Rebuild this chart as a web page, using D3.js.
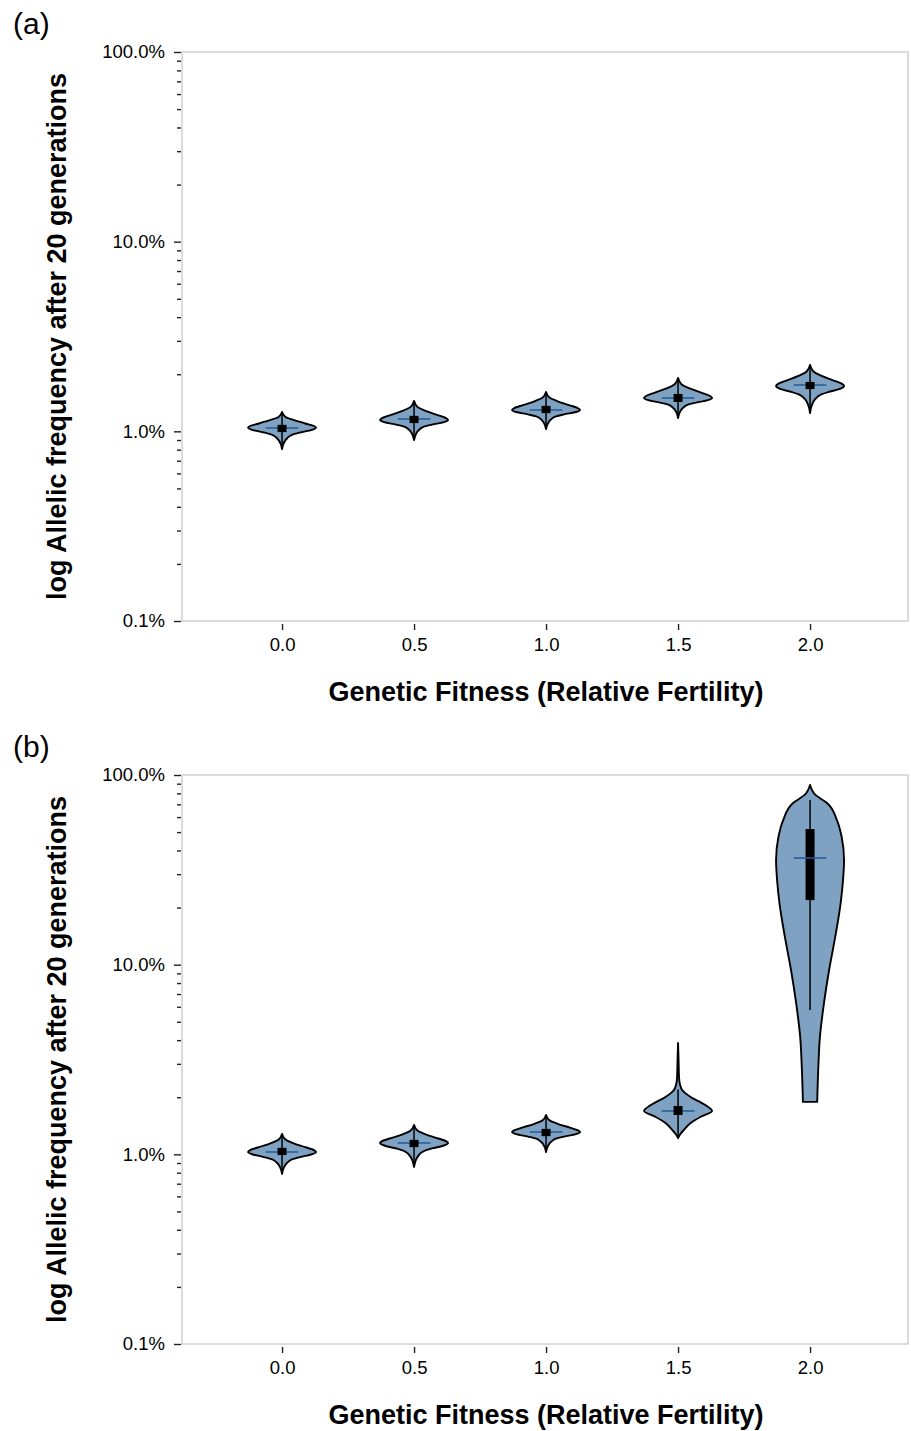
<!DOCTYPE html>
<html>
<head>
<meta charset="utf-8" />
<script src="https://cdn.jsdelivr.net/npm/d3@7"></script>
<style>
body{margin:0;background:#fff;}
svg text{font-family:"Liberation Sans",Arial,sans-serif;fill:#000;}
svg .violin{fill:#7fa2c3;stroke:#000;stroke-width:1.9px;stroke-linejoin:round;}
svg .whisker{stroke:#000;stroke-width:1.5px;}
svg .box{fill:#000;}
svg .mean{stroke:#1f5b99;stroke-width:1.6px;}
svg .frame{fill:none;stroke:#cfcfcf;stroke-width:1.5px;}
svg .tick line{stroke:#222;stroke-width:1.4px;}
</style>
</head>
<body>
<div id="chart"></div>
<script>
// categories
var fitness = [0.0, 0.5, 1.0, 1.5, 2.0];
var yTicks = [0.1, 1, 10, 100];

// violin outlines, [frequency %, relative half width]
// panel (a)
var a00 = [[1.265,0],[1.190,0.10],[1.148,0.34],[1.100,0.68],[1.067,0.94],[1.048,1],[1.019,0.88],[0.986,0.53],[0.959,0.29],[0.920,0.15],[0.866,0.05],[0.807,0]];
var a05 = [[1.445,0],[1.346,0.10],[1.282,0.34],[1.221,0.68],[1.174,0.94],[1.148,1],[1.119,0.88],[1.085,0.53],[1.058,0.29],[1.019,0.15],[0.963,0.05],[0.900,0]];
var a10 = [[1.612,0],[1.506,0.10],[1.439,0.34],[1.375,0.68],[1.324,0.94],[1.296,1],[1.265,0.88],[1.228,0.53],[1.199,0.29],[1.157,0.15],[1.097,0.05],[1.029,0]];
var a15 = [[1.911,0],[1.772,0.10],[1.684,0.34],[1.601,0.68],[1.536,0.94],[1.499,1],[1.461,0.88],[1.417,0.53],[1.382,0.29],[1.331,0.15],[1.259,0.05],[1.176,0]];
var a20 = [[2.238,0],[2.068,0.10],[1.960,0.34],[1.858,0.68],[1.779,0.94],[1.734,1],[1.674,0.88],[1.609,0.53],[1.553,0.29],[1.477,0.15],[1.370,0.05],[1.249,0]];
// box stats (a)
var aQ3 = [1.082, 1.207, 1.362, 1.574, 1.822];
var aQ1 = [0.991, 1.105, 1.247, 1.428, 1.670];
var aMean = [1.041, 1.162, 1.296, 1.499, 1.755];
var aWhiskHi = [1.265, 1.445, 1.612, 1.911, 2.238];
var aWhiskLo = [0.807, 0.900, 1.029, 1.176, 1.249];

// panel (b)
var b00 = [[1.280,0],[1.196,0.10],[1.142,0.34],[1.092,0.68],[1.052,0.94],[1.029,1],[1.001,0.88],[0.967,0.53],[0.940,0.29],[0.902,0.15],[0.849,0.05],[0.788,0]];
var b05 = [[1.428,0],[1.334,0.10],[1.274,0.34],[1.218,0.68],[1.173,0.94],[1.148,1],[1.113,0.88],[1.074,0.53],[1.040,0.29],[0.995,0.15],[0.930,0.05],[0.858,0]];
var b10 = [[1.612,0],[1.512,0.10],[1.449,0.34],[1.387,0.68],[1.339,0.94],[1.312,1],[1.279,0.88],[1.240,0.53],[1.209,0.29],[1.164,0.15],[1.101,0.05],[1.029,0]];
var b15 = [[3.864,0],[3.143,0.015],[2.526,0.03],[2.321,0.06],[2.184,0.12],[2.006,0.37],[1.820,0.8],[1.692,1],[1.579,0.67],[1.463,0.37],[1.344,0.17],[1.280,0.07],[1.220,0]];
var b20 = [[88.6,0],[78.5,0.16],[71.2,0.50],[57.9,0.79],[47.1,0.93],[35.6,1],[28.0,0.97],[21.1,0.90],[14.0,0.74],[9.37,0.56],[6.28,0.41],[4.16,0.29],[2.79,0.24],[1.89,0.21]];
// box stats (b)
var bQ3 = [1.082, 1.192, 1.362, 1.799, 51.9];
var bQ1 = [0.991, 1.091, 1.247, 1.612, 21.9];
var bMean = [1.029, 1.148, 1.312, 1.692, 36.5];
var bWhiskHi = [1.280, 1.428, 1.612, 2.2, 73.8];
var bWhiskLo = [0.788, 0.858, 1.029, 1.220, 5.77];

var width = 911, height = 1431;
var left = 182, right = 908, plotH = 569;
var halfW = 0.1288;   // widest half width of a violin, in x units
var meanW = 0.062;

var svg = d3.select("#chart").append("svg")
    .attr("width", width)
    .attr("height", height);

var x = d3.scaleLinear().domain([-0.379, 2.371]).range([left, right]);

function drawPanel(top, label, profiles, q1, q3, mean, wLo, wHi) {
    var bottom = top + plotH;
    var y = d3.scaleLog().domain([0.1, 100]).range([bottom, top]);
    var g = svg.append("g");

    g.append("rect").attr("class", "frame")
        .attr("x", left).attr("y", top)
        .attr("width", right - left).attr("height", plotH);

    // y axis, major + minor ticks
    var major = d3.axisLeft(y).tickValues(yTicks).tickSize(7).tickPadding(9)
        .tickFormat(function(d){ return d3.format(".1f")(d) + "%"; });
    var ya = g.append("g").attr("transform", "translate(" + (left - 1) + ",0)").call(major);
    ya.select(".domain").remove();
    ya.selectAll("text").style("font-size", "18.5px");

    var minorVals = y.ticks().filter(function(d){ return yTicks.indexOf(d) < 0; });
    var minor = d3.axisLeft(y).tickValues(minorVals).tickSize(4).tickFormat("");
    var ym = g.append("g").attr("transform", "translate(" + (left - 1) + ",0)").call(minor);
    ym.select(".domain").remove();

    // x axis
    var xa = g.append("g").attr("transform", "translate(0," + (bottom + 3) + ")")
        .call(d3.axisBottom(x).tickValues(fitness).tickSize(6).tickPadding(8)
            .tickFormat(d3.format(".1f")));
    xa.select(".domain").remove();
    xa.selectAll("text").style("font-size", "18.5px");

    // violins
    profiles.forEach(function(prof, i){
        var f = fitness[i];
        var area = d3.area()
            .curve(d3.curveMonotoneY)
            .y(function(d){ return y(d[0]); })
            .x0(function(d){ return x(f - d[1] * halfW); })
            .x1(function(d){ return x(f + d[1] * halfW); });
        g.append("path").attr("class", "violin").attr("d", area(prof));

        g.append("line").attr("class", "whisker")
            .attr("x1", x(f)).attr("x2", x(f))
            .attr("y1", y(wHi[i])).attr("y2", y(wLo[i]));
        var boxH = y(q1[i]) - y(q3[i]);
        var ml = g.append("line").attr("class", "mean")
            .attr("x1", x(f - meanW)).attr("x2", x(f + meanW))
            .attr("y1", y(mean[i])).attr("y2", y(mean[i]));
        g.append("rect").attr("class", "box")
            .attr("x", x(f) - 4.5).attr("width", 9)
            .attr("y", y(q3[i])).attr("height", boxH);
        // on the tall box the mean line shows across it
        if (boxH > 20) ml.raise();
    });

    // titles
    g.append("text")
        .attr("x", x(1.0)).attr("y", bottom + 80)
        .attr("text-anchor", "middle")
        .style("font-size", "27px").style("font-weight", "bold")
        .text("Genetic Fitness (Relative Fertility)");
    g.append("text")
        .attr("transform", "translate(66," + (top + plotH / 2) + ") rotate(-90)")
        .attr("text-anchor", "middle")
        .style("font-size", "27px").style("font-weight", "bold")
        .text("log Allelic frequency after 20 generations");
    g.append("text")
        .attr("x", 13).attr("y", top - 18)
        .style("font-size", "30px")
        .text(label);
}

drawPanel(52, "(a)", [a00, a05, a10, a15, a20], aQ1, aQ3, aMean, aWhiskLo, aWhiskHi);
drawPanel(775, "(b)", [b00, b05, b10, b15, b20], bQ1, bQ3, bMean, bWhiskLo, bWhiskHi);
</script>
</body>
</html>
